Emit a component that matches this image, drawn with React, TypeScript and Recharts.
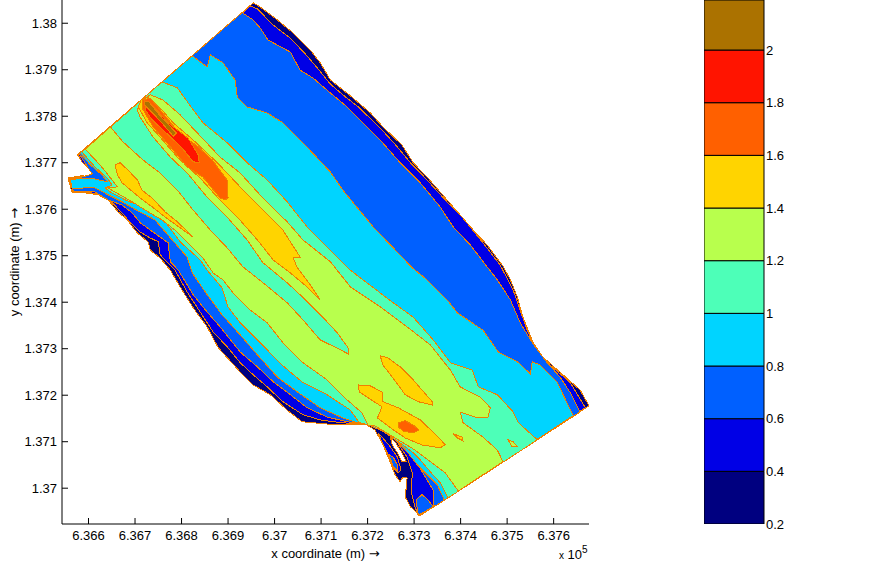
import { Bar, BarChart, Label, Scatter, ScatterChart, XAxis, YAxis } from "recharts";

// contour regions in model coordinates (metres), painted from low to high
const domainOutline = [
  [636954,138044],[636969,138035],[637006,138007],[637040,137979],[637077,137942],[637098,137915],[637120,137878],[637163,137844],
  [637206,137807],[637233,137777],[637274,137738],[637298,137700],[637328,137669],[637356,137637],[637384,137605],[637421,137562],
  [637457,137523],[637491,137478],[637507,137448],[637522,137411],[637534,137368],[637556,137313],[637577,137282],[637620,137244],
  [637657,137211],[637676,137177],[637313,136941],[637292,136960],[637281,136981],[637285,137022],[637276,137024],[637270,137014],
  [637259,137029],[637249,137055],[637231,137098],[637216,137125],[637195,137138],[637113,137138],[637059,137143],[637027,137168],
  [636991,137201],[636954,137222],[636926,137250],[636879,137302],[636855,137347],[636825,137388],[636797,137433],[636776,137469],
  [636754,137495],[636733,137512],[636728,137530],[636705,137549],[636683,137577],[636664,137594],[636642,137620],[636621,137631],
  [636593,137635],[636565,137635],[636556,137667],[636586,137672],[636614,137669],[636610,137678],[636588,137700],[636576,137717],
  [636930,138022],
];

const level04 = [
  [636948,138037],[636963,138031],[636997,137996],[637034,137968],[637066,137934],[637092,137904],[637120,137869],[637147,137846],
  [637180,137820],[637227,137775],[637264,137734],[637292,137700],[637328,137663],[637367,137620],[637405,137581],[637448,137528],
  [637485,137480],[637513,137426],[637528,137383],[637543,137340],[637565,137291],[637599,137259],[637636,137227],[637668,137173],
  [637309,136941],[637302,136960],[637294,136990],[637296,137033],[637285,137067],[637270,137089],[637259,137108],[637238,137123],
  [637210,137134],[637188,137138],[637141,137141],[637098,137147],[637061,137158],[637018,137186],[636984,137218],[636954,137244],
  [636926,137270],[636900,137302],[636868,137336],[636840,137379],[636812,137422],[636786,137469],[636754,137502],[636750,137530],
  [636733,137538],[636711,137551],[636690,137571],[636672,137592],[636651,137614],[636621,137633],[636593,137637],[636567,137637],
  [636558,137665],[636586,137671],[636612,137673],[636606,137682],[636586,137702],[636578,137717],
];
const level04Lobe = [
  [637223,137119],[637249,137089],[637264,137067],[637272,137039],[637266,137033],[637255,137044],[637242,137076],[637231,137098],
];

const level06 = [
  [636930,138023],[636954,138007],[636969,137990],[636986,137964],[637034,137938],[637055,137899],[637083,137882],[637120,137850],
  [637156,137820],[637190,137786],[637227,137749],[637270,137700],[637313,137657],[637356,137605],[637384,137562],[637421,137523],
  [637457,137476],[637479,137448],[637507,137405],[637528,137356],[637554,137313],[637586,137270],[637614,137239],[637636,137205],
  [637657,137164],[637343,136960],[637341,136996],[637324,137024],[637302,137061],[637276,137093],[637253,137117],[637223,137132],
  [637199,137136],[637156,137143],[637113,137153],[637070,137173],[637034,137201],[636997,137229],[636963,137261],[636926,137293],
  [636883,137347],[636855,137379],[636825,137416],[636793,137469],[636776,137487],[636771,137528],[636733,137555],[636711,137571],
  [636694,137592],[636672,137609],[636642,137620],[636614,137637],[636593,137639],[636567,137639],[636561,137665],[636586,137669],
  [636608,137676],[636599,137689],[636580,137720],
];
const level06Lobe = [[637246,137072],[637255,137067],[637264,137050],[637264,137039],[637255,137046]];
const level06Tip = [[637309,136942],[637304,136975],[637317,136986],[637330,136975],[637341,136960]];

const level08 = [
  [636823,137930],[636855,137906],[636862,137932],[636889,137915],[636915,137878],[636920,137841],[636941,137820],[636984,137807],
  [637018,137786],[637061,137743],[637120,137680],[637147,137641],[637178,137603],[637212,137562],[637255,137517],[637296,137474],
  [637328,137448],[637371,137405],[637393,137377],[637448,137340],[637481,137293],[637522,137272],[637550,137246],[637554,137272],
  [637571,137265],[637608,137227],[637642,137156],[637365,136974],[637350,137007],[637328,137029],[637307,137050],[637287,137076],
  [637266,137098],[637238,137121],[637201,137136],[637178,137141],[637147,137151],[637098,137173],[637049,137207],[637006,137239],
  [636963,137287],[636926,137330],[636887,137373],[636851,137422],[636823,137463],[636812,137497],[636780,137534],[636743,137577],
  [636707,137596],[636672,137616],[636642,137631],[636614,137646],[636593,137646],[636565,137644],[636561,137663],[636586,137667],
  [636614,137665],[636640,137659],[636629,137674],[636604,137695],[636582,137721],
];

const level10 = [
  [636758,137874],[636791,137861],[636814,137829],[636846,137786],[636898,137743],[636941,137700],[636984,137663],[637027,137616],
  [637070,137562],[637120,137512],[637163,137469],[637190,137448],[637255,137399],[637298,137368],[637341,137319],[637378,137270],
  [637425,137254],[637438,137218],[637479,137201],[637513,137164],[637524,137141],[637565,137104],[637373,136979],[637356,137012],
  [637335,137035],[637313,137061],[637296,137078],[637266,137100],[637238,137119],[637210,137134],[637182,137141],[637163,137168],
  [637113,137201],[637061,137227],[637016,137265],[636969,137313],[636926,137356],[636900,137390],[636887,137431],[636855,137469],
  [636840,137491],[636797,137530],[636765,137573],[636743,137588],[636707,137609],[636679,137620],[636647,137637],[636636,137646],
  [636651,137652],[636640,137667],[636614,137691],[636586,137723],
];

const level12 = [
  [636593,137729],[636647,137777],[636674,137745],[636717,137706],[636754,137678],[636791,137641],[636825,137598],[636862,137555],
  [636898,137517],[636932,137476],[636975,137442],[637027,137399],[637061,137362],[637098,137319],[637141,137298],[637158,137289],
  [637158,137302],[637135,137334],[637109,137362],[637055,137416],[637027,137442],[636975,137485],[636941,137534],[636898,137583],
  [636855,137626],[636812,137678],[636776,137712],[636739,137755],[636711,137798],[636705,137813],[636713,137833],[636733,137846],
  [636760,137835],[636797,137803],[636834,137764],[636883,137712],[636926,137678],[636975,137624],[637027,137573],[637061,137534],
  [637120,137487],[637163,137433],[637227,137390],[637285,137347],[637335,137308],[637378,137254],[637399,137218],[637442,137196],
  [637464,137173],[637459,137153],[637438,137151],[637399,137164],[637405,137141],[637448,137110],[637479,137082],[637491,137057],
  [637395,136994],[637367,137033],[637330,137061],[637302,137082],[637266,137104],[637216,137134],[637201,137136],[637188,137162],
  [637156,137190],[637113,137233],[637061,137270],[637018,137313],[636984,137356],[636948,137383],[636911,137420],[636889,137448],
  [636868,137463],[636846,137495],[636786,137555],[636758,137577],[636722,137598],[636694,137616],[636657,137637],[636642,137646],
  [636662,137648],[636642,137674],[636625,137695],
];
const level12Spot = [[637502,137104],[637513,137100],[637522,137089],[637511,137089]];

const level14Ridge = [
  [636713,137835],[636728,137841],[636754,137818],[636782,137786],[636825,137749],[636877,137700],[636926,137648],[636975,137598],
  [637018,137555],[637055,137497],[637040,137495],[637049,137474],[637077,137437],[637098,137405],[637094,137409],[637070,137433],
  [637034,137463],[636997,137491],[636963,137534],[636920,137583],[636877,137626],[636840,137667],[636791,137712],[636754,137755],
  [636726,137786],[636707,137820],
];
const level14Spur = [
  [636657,137695],[636668,137700],[636685,137684],[636705,137663],[636715,137641],[636737,137624],[636765,137594],[636791,137573],
  [636825,137540],[636797,137560],[636765,137583],[636737,137605],[636711,137624],[636672,137657],[636662,137674],
];
const level14North = [
  [637227,137285],[637244,137280],[637270,137261],[637298,137233],[637339,137186],[637339,137179],[637309,137186],[637281,137201],
  [637253,137239],[637233,137265],
];
const level14South = [
  [637180,137222],[637206,137220],[637231,137207],[637233,137186],[637266,137173],[637313,137147],[637352,137110],[637367,137093],
  [637356,137087],[637317,137093],[637281,137108],[637249,137130],[637221,137151],[637231,137175],[637199,137196],[637182,137207],
];
const level14Spot = [[637384,137117],[637403,137110],[637405,137102],[637393,137108]];

const level16Ridge = [
  [636717,137835],[636733,137839],[636754,137814],[636793,137766],[636836,137734],[636866,137706],[636898,137663],[636900,137624],
  [636894,137620],[636883,137624],[636846,137669],[636812,137691],[636776,137734],[636739,137777],[636715,137818],
];
const level16South = [
  [637266,137141],[637281,137145],[637298,137136],[637311,137125],[637298,137119],[637276,137123],[637266,137132],
];
const level18 = [
  [636722,137829],[636737,137824],[636771,137786],[636814,137753],[636836,137717],[636838,137700],[636825,137702],[636801,137732],
  [636765,137766],[636737,137792],[636722,137814],
];
const level20 = [
  [636720,137833],[636730,137831],[636754,137801],[636789,137764],[636782,137757],[636760,137783],[636735,137810],[636720,137824],
];
const dryIsland = [
  [637249,137108],[637259,137100],[637274,137076],[637283,137057],[637274,137057],[637264,137076],[637253,137093],
];

const xTicks = [636600, 636700, 636800, 636900, 637000, 637100, 637200, 637300, 637400, 637500, 637600];
const yTicks = [137000, 137100, 137200, 137300, 137400, 137500, 137600, 137700, 137800, 137900, 138000];

const barLevels = [0.2, 0.4, 0.6, 0.8, 1, 1.2, 1.4, 1.6, 1.8, 2];
const barColors = ["#000080", "#0000e6", "#0060ff", "#00d4ff", "#4dffb8", "#b8ff4d", "#ffd400", "#ff6000", "#ff1400", "#ab7200"];

const regions: [number[][], string][] = [
  [domainOutline, barColors[0]],
  [level04, barColors[1]],
  [level04Lobe, barColors[1]],
  [level06, barColors[2]],
  [level06Lobe, barColors[2]],
  [level06Tip, barColors[2]],
  [level08, barColors[3]],
  [level10, barColors[4]],
  [level12, barColors[5]],
  [level12Spot, barColors[5]],
  [level14Ridge, barColors[6]],
  [level14Spur, barColors[6]],
  [level14North, barColors[6]],
  [level14South, barColors[6]],
  [level14Spot, barColors[6]],
  [level16Ridge, barColors[7]],
  [level16South, barColors[7]],
  [level18, barColors[8]],
  [level20, barColors[9]],
  [dryIsland, "#ffffff"],
];

// colorbar: one stacked column, first piece only lifts it off zero
const barRow: Record<string, number | string> = { name: "bar", lift: 0.2 };
barLevels.forEach((_, i) => {
  barRow["b" + i] = 0.2;
});

const fontFamily = "Liberation Sans";
const tickStyle = { fontSize: 13, fontFamily, fill: "#000" };

const Region = ({ points, color }: any) => (
  <polygon
    points={points.map((p: any) => `${p.x},${p.y}`).join(" ")}
    fill={color}
    stroke="#f08000"
    strokeWidth={1}
    shapeRendering="crispEdges"
  />
);

const NoDot = () => null;

const fmtAxis = (v: number) => String(Number((v / 100000).toFixed(3)));

// axis title with the wider DejaVu arrow
const AxisTitle = ({ viewBox, text, vertical }: any) => {
  const cx = vertical ? viewBox.x + 14 : viewBox.x + viewBox.width / 2;
  const cy = vertical ? viewBox.y + viewBox.height / 2 : viewBox.y + 29;
  return (
    <text
      x={cx}
      y={cy}
      textAnchor="middle"
      fontSize={13}
      fontFamily={fontFamily}
      fill="#000"
      transform={vertical ? `rotate(-90 ${cx} ${cy})` : undefined}
      dominantBaseline="central"
    >
      {text} <tspan fontFamily="DejaVu Sans">→</tspan>
    </text>
  );
};

export default function App() {
  return (
    <div style={{ position: "absolute", left: 0, top: 0, width: 876, height: 562, background: "#fff", overflow: "hidden" }}>
      <ScatterChart width={876} height={562} margin={{ top: 0, right: 287, bottom: 0, left: 0 }}>
        <XAxis
          type="number"
          dataKey="x"
          domain={[636543, 637676]}
          ticks={xTicks}
          tickFormatter={fmtAxis}
          height={38}
          tickSize={-6}
          tickMargin={13}
          interval={0}
          tick={tickStyle}
          stroke="#000"
        >
          <Label content={<AxisTitle text="x coordinate (m)" />} />
        </XAxis>
        <YAxis
          type="number"
          dataKey="y"
          domain={[136923, 138050]}
          ticks={yTicks}
          tickFormatter={fmtAxis}
          width={62}
          tickSize={-6}
          tickMargin={11}
          interval={0}
          tick={tickStyle}
          stroke="#000"
        >
          <Label content={<AxisTitle text="y coordinate (m)" vertical />} />
        </YAxis>
        {regions.map(([pts, color], i) => (
          <Scatter
            key={i}
            data={pts.map(([x, y]) => ({ x, y }))}
            isAnimationActive={false}
            shape={NoDot}
            line={<Region color={color} />}
          />
        ))}
      </ScatterChart>

      <div style={{ position: "absolute", left: 704, top: 0 }}>
        <BarChart
          width={172}
          height={562}
          data={[barRow]}
          barCategoryGap={0}
          margin={{ top: 0, right: 0, bottom: 38, left: 0 }}
        >
          <XAxis dataKey="name" hide />
          <YAxis
            orientation="right"
            type="number"
            domain={[0.2, 2.19]}
            allowDataOverflow
            ticks={barLevels}
            interval={0}
            width={112}
            axisLine={false}
            tickLine={false}
            tickMargin={2}
            tickSize={0}
            tick={tickStyle}
          />
          <Bar dataKey="lift" stackId="c" fill="none" stroke="none" isAnimationActive={false} />
          {barLevels.map((_, i) => (
            <Bar
              key={i}
              dataKey={"b" + i}
              stackId="c"
              fill={barColors[i]}
              stroke="#000"
              strokeWidth={1}
              isAnimationActive={false}
            />
          ))}
        </BarChart>
      </div>

      <div style={{ position: "absolute", left: 559, top: 548, fontFamily, fontSize: 13, lineHeight: "14px", whiteSpace: "nowrap" }}>
        <span style={{ fontSize: 10 }}>x</span> 10
      </div>
      <div style={{ position: "absolute", left: 582, top: 544, fontFamily, fontSize: 10, lineHeight: "12px" }}>5</div>
    </div>
  );
}
